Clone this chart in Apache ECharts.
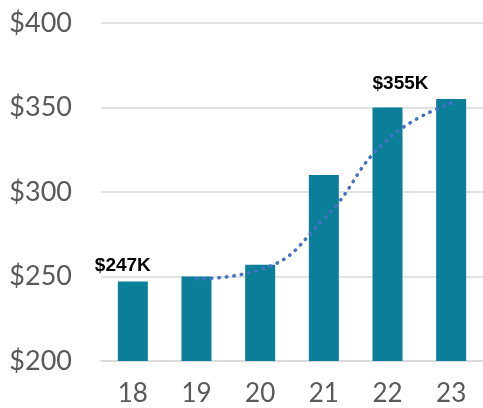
<!DOCTYPE html>
<html>
<head>
<meta charset="utf-8">
<script src="https://cdn.jsdelivr.net/npm/echarts@6/dist/echarts.min.js"></script>
<style>
  html, body { margin: 0; padding: 0; background: #fff; }
  #chart { width: 483px; height: 408px; }
</style>
</head>
<body>
<div id="chart"></div>
<script>
// 数据
const years = ['18', '19', '20', '21', '22', '23'];
const revenue = [247, 250, 257, 310, 350, 355];
// 趋势线（移动平均，从图上读取）
const trend = ['-', 248.5, 254, 284, 331, 352.5];
const yTicks = [200, 250, 300, 350, 400];
const callouts = ['$247K', '', '', '', '$355K', ''];

const chart = echarts.init(document.getElementById('chart'));

const barData = revenue.map((v, i) => {
    if (!callouts[i]) return v;
    return {
        value: v,
        label: {
            show: true,
            position: 'top',
            formatter: callouts[i],
            offset: i === 0 ? [-10, 0] : [13, -8],
            distance: 6,
            color: '#000',
            fontFamily: 'Liberation Sans, Arial',
            fontWeight: 'bold',
            fontSize: 19
        }
    };
});

const option = {
    backgroundColor: '#fff',
    animation: false,
    grid: {
        top: 23,
        bottom: 47,
        left: 101,
        right: 0
    },
    xAxis: {
        type: 'category',
        data: years,
        axisLine: { lineStyle: { color: '#d9d9d9', width: 1.5 } },
        axisTick: { show: false },
        axisLabel: {
            color: '#595959',
            fontFamily: 'Lato',
            fontSize: 26,
            margin: 20
        }
    },
    yAxis: {
        type: 'value',
        min: yTicks[0],
        max: yTicks[yTicks.length - 1],
        interval: 50,
        axisLine: { show: false },
        axisTick: { show: false },
        axisLabel: {
            color: '#595959',
            fontFamily: 'Lato',
            fontSize: 27,
            margin: 29,
            formatter: v => '$' + v
        },
        splitLine: { lineStyle: { color: '#d9d9d9', width: 1.5 } }
    },
    series: [
        {
            type: 'bar',
            data: barData,
            barWidth: 30,
            itemStyle: { color: '#0B7F9A' }
        },
        {
            type: 'line',
            data: trend,
            smooth: true,
            symbol: 'none',
            lineStyle: {
                color: '#4472C4',
                width: 3.5,
                type: [0.5, 7],
                cap: 'round'
            }
        }
    ]
};

chart.setOption(option);
</script>
</body>
</html>
